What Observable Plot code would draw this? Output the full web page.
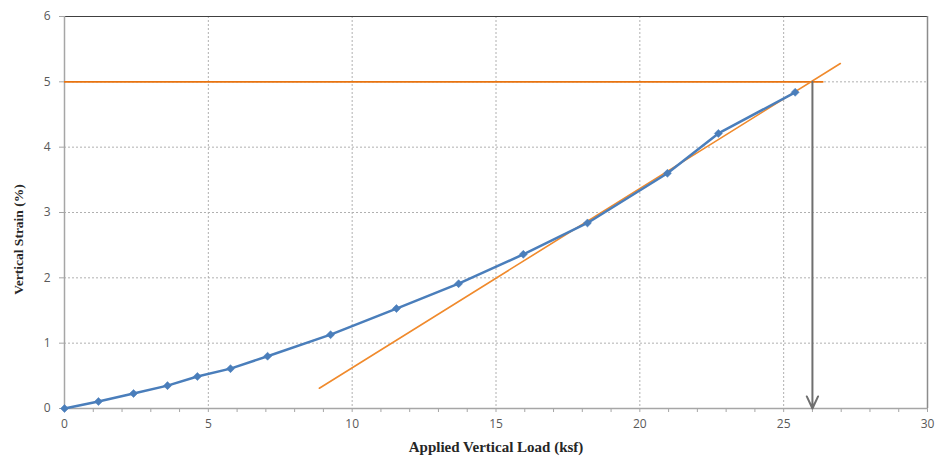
<!DOCTYPE html>
<html>
<head>
<meta charset="utf-8">
<script src="https://cdn.jsdelivr.net/npm/d3@7"></script>
<script src="https://cdn.jsdelivr.net/npm/@observablehq/plot@0.6"></script>
<style>
  html, body { margin: 0; padding: 0; background: #fff; }
  #chart { width: 936px; height: 456px; }
</style>
</head>
<body>
<div id="chart"></div>
<script>
// Measured curve: applied vertical load (ksf) vs vertical strain (%)
const load   = [0, 1.18, 2.4, 3.58, 4.62, 5.77, 7.06, 9.25, 11.54, 13.7, 15.95, 18.18, 20.96, 22.73, 25.4];
const strain = [0, 0.107, 0.23, 0.35, 0.49, 0.61, 0.80, 1.13, 1.53, 1.91, 2.36, 2.84, 3.60, 4.21, 4.84];

// Tangent line (orange)
const tangentLoad   = [8.86, 26.97];
const tangentStrain = [0.31, 5.28];

// 5% strain limit line and load at that limit
const limitStrain = 5;
const limitLoadEnd = 26.4;
const limitLoad = 26;

const xTicks = d3.range(0, 31, 1);
const xLabels = [0, 5, 10, 15, 20, 25, 30];
const yTicks = [0, 1, 2, 3, 4, 5, 6];
const xGrid = [5, 10, 15, 20, 25];
const yGrid = [1, 2, 3, 4, 5];

const xTitle = "Applied Vertical Load (ksf)";
const yTitle = "Vertical Strain (%)";

const curve = load.map((x, i) => ({x, y: strain[i]}));
const tangent = tangentLoad.map((x, i) => ({x, y: tangentStrain[i]}));

const chart = Plot.plot({
  width: 936,
  height: 456,
  marginLeft: 64,
  marginRight: 9,
  marginTop: 16,
  marginBottom: 48,
  style: {fontFamily: "'Open Sans', sans-serif", fontSize: "12px", color: "#595959", background: "#fff"},
  x: {domain: [0, 30]},
  y: {domain: [0, 6]},
  marks: [
    Plot.ruleX(xGrid, {stroke: "#b0b0b0", strokeDasharray: "2,2"}),
    Plot.ruleY(yGrid, {stroke: "#b0b0b0", strokeDasharray: "2,2"}),
    Plot.ruleY([6], {stroke: "#404040", strokeWidth: 1}),
    Plot.ruleX([30], {stroke: "#8c8c8c", strokeWidth: 1.5}),
    Plot.ruleX([0], {stroke: "#a6a6a6", strokeWidth: 1.5}),
    Plot.ruleY([0], {stroke: "#a6a6a6", strokeWidth: 1.5}),
    Plot.axisX({ticks: xTicks, tickSize: 4, tickPadding: 7, stroke: "#a6a6a6",
      tickFormat: d => xLabels.includes(d) ? String(d) : "", label: null, fill: "#595959"}),
    Plot.axisY({ticks: yTicks, tickSize: 5, tickPadding: 9, stroke: "#a6a6a6",
      tickFormat: d => String(d), label: null, fill: "#595959"}),
    Plot.ruleY([limitStrain], {x1: 0, x2: limitLoadEnd, stroke: "#e8730f", strokeWidth: 1.8}),
    Plot.line(tangent, {x: "x", y: "y", stroke: "#f08a2c", strokeWidth: 1.6}),
    Plot.line(curve, {x: "x", y: "y", stroke: "#4a7ebb", strokeWidth: 2.5}),
    Plot.dot(curve, {x: "x", y: "y", symbol: "square", rotate: 45, r: 3.2, fill: "#4a7ebb", stroke: "#4a7ebb", strokeWidth: 0.5}),
    Plot.arrow([{x: limitLoad}], {x: "x", y1: limitStrain, y2: 0, bend: 0, stroke: "#6f6f6f", strokeWidth: 2, headLength: 10, headAngle: 50}),
    Plot.text([xTitle], {frameAnchor: "bottom", dy: 39, lineAnchor: "middle", textAnchor: "middle",
      fontFamily: "'Liberation Serif', 'Times New Roman', serif", fontWeight: "bold", fontSize: 15, fill: "#262626",
      style: "letter-spacing:0.6px"}),
    Plot.text([yTitle], {frameAnchor: "left", dx: -46, dy: 27, rotate: -90, lineAnchor: "middle", textAnchor: "middle",
      fontFamily: "'Liberation Serif', 'Times New Roman', serif", fontWeight: "bold", fontSize: 13.5, fill: "#262626"})
  ]
});
document.getElementById("chart").appendChild(chart);
</script>
</body>
</html>
